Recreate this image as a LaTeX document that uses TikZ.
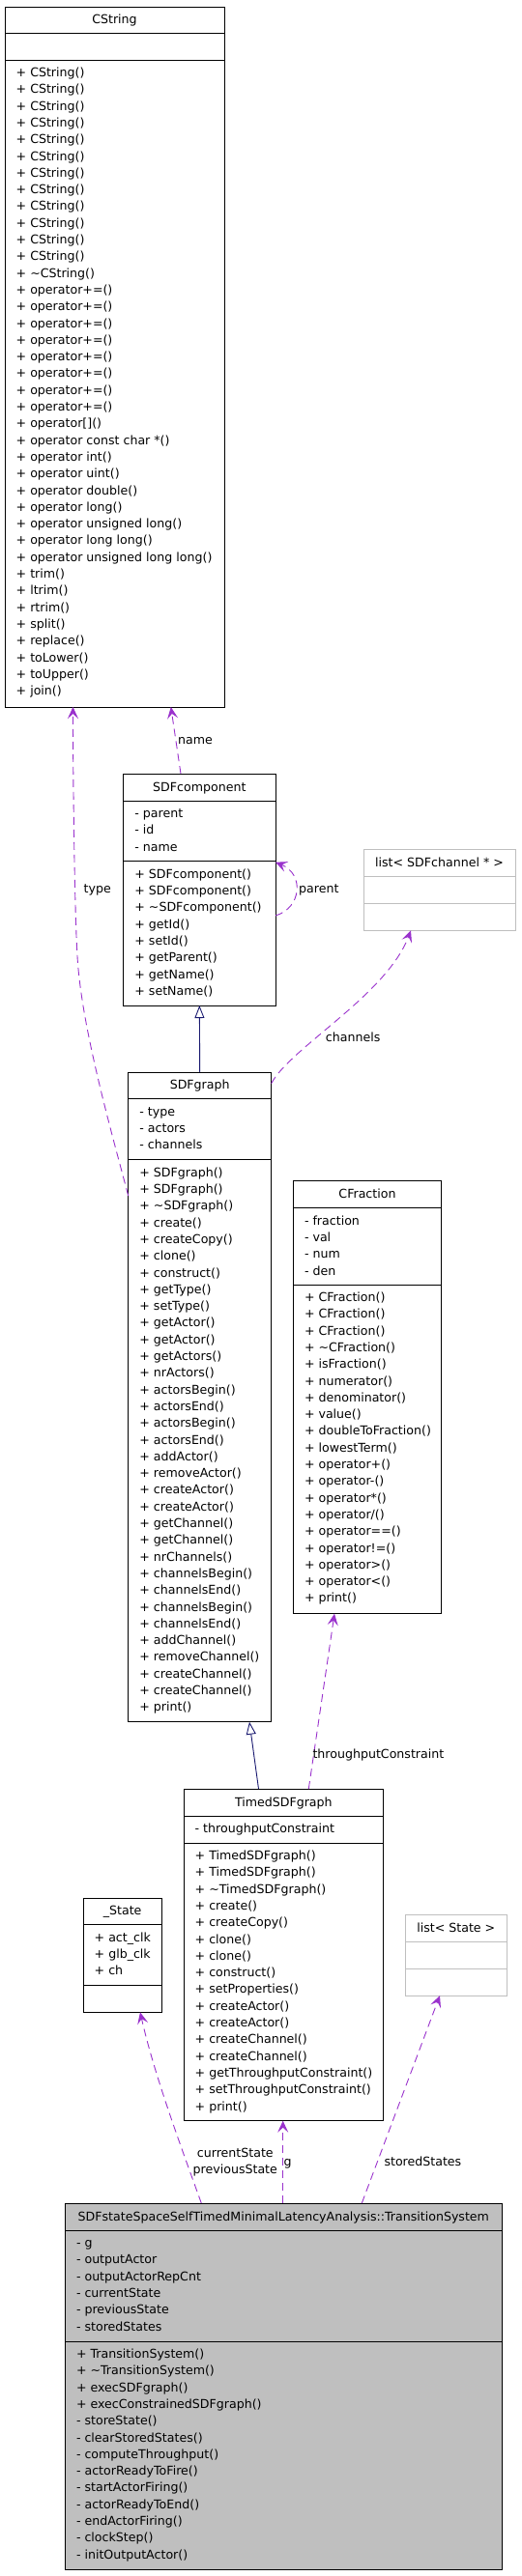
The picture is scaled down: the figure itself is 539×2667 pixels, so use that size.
\documentclass[tikz,border=0pt]{standalone}
\usepackage{fontspec}
\setmainfont{DejaVu Sans}
\usetikzlibrary{arrows.meta}
\definecolor{usecol}{HTML}{9A32CD}
\definecolor{inhcol}{HTML}{191970}
\definecolor{tplcol}{HTML}{BFBFBF}
\definecolor{selcol}{HTML}{BFBFBF}
\newcommand\rowfont{\fontsize{12.6}{17.3}\selectfont}
\tikzset{
 classbox/.style={draw=black, line width=0.9pt, fill=white, inner sep=0pt, outer sep=0pt},
 tplbox/.style={draw=tplcol, line width=1pt, fill=white, inner sep=0pt, outer sep=0pt},
 curbox/.style={draw=black, line width=0.9pt, fill=selcol, inner sep=0pt, outer sep=0pt},
 sepline/.style={line width=0.9pt, draw=black},
 tplsep/.style={line width=1pt, draw=tplcol},
 row/.style={anchor=base west, inner sep=0pt, font=\rowfont},
 ttl/.style={anchor=base, inner sep=0pt, font=\rowfont},
 lbl/.style={anchor=base west, inner sep=0pt, font=\rowfont},
 lblc/.style={anchor=base, inner sep=0pt, font=\rowfont},
 uses/.style={draw=usecol, line width=0.9pt, dash pattern=on 8pt off 5pt, -{Stealth[length=12pt,width=11pt,inset=5pt,fill=usecol]}},
 inherit/.style={draw=inhcol, line width=0.9pt, -{Triangle[open,length=13pt,width=10pt,fill=white]}},
}
% name, box style, sep style, x1, y1, x2, y2, sep1, sep2
\newcommand\umlbox[9]{%
 \node[#2, anchor=north west, minimum width={#6-#4}, minimum height={#7-#5}] (#1) at (#4,#5) {};
 \draw[#3] (#1.west |- 0,#8) -- (#1.east |- 0,#8);
 \draw[#3] (#1.west |- 0,#9) -- (#1.east |- 0,#9);
}
% prefix, x, first baseline, list
\newcommand\umlrows[4]{\foreach \t [count=\i] in {#4} {\node[row] (#1\i) at (#2,{#3+(\i-1)*17.3}) {\t};}}
\begin{document}
\begin{tikzpicture}[x=1pt,y=-1pt]
\fill[white] (0,0) rectangle (539,2667);
\useasboundingbox (0,0) rectangle (539,2667);

% CString
\umlbox{cstring}{classbox}{sepline}{5}{7}{232}{732}{34}{62}
\node[ttl] (cstring-t) at (118.5,24.5) {CString};
\umlrows{cstring-m}{16.5}{79.5}{+ CString(),+ CString(),+ CString(),+ CString(),+ CString(),+ CString(),+ CString(),+ CString(),+ CString(),+ CString(),+ CString(),+ CString(),+ \textasciitilde CString(),+ operator+=(),+ operator+=(),+ operator+=(),+ operator+=(),+ operator+=(),+ operator+=(),+ operator+=(),+ operator+=(),{+ operator[]()},+ operator const char *(),+ operator int(),+ operator uint(),+ operator double(),+ operator long(),+ operator unsigned long(),+ operator long long(),+ operator unsigned long long(),+ trim(),+ ltrim(),+ rtrim(),+ split(),+ replace(),+ toLower(),+ toUpper(),+ join()}

% SDFcomponent
\umlbox{sdfcomp}{classbox}{sepline}{127.7}{801}{285}{1041}{829}{891.7}
\node[ttl] (sdfcomp-t) at (206.35,819) {SDFcomponent};
\umlrows{sdfcomp-a}{139.2}{846.5}{- parent,- id,- name}
\umlrows{sdfcomp-m}{139.2}{909.2}{+ SDFcomponent(),+ SDFcomponent(),+ \textasciitilde SDFcomponent(),+ getId(),+ setId(),+ getParent(),+ getName(),+ setName()}

% list< SDFchannel * >
\umlbox{listch}{tplbox}{tplsep}{376}{879.3}{533}{963.3}{907.3}{935.3}
\node[ttl] (listch-t) at (454.5,897.3) {list< SDFchannel * >};

% SDFgraph
\umlbox{sdfgraph}{classbox}{sepline}{132.7}{1110}{280.7}{1782.7}{1137.7}{1200.7}
\node[ttl] (sdfgraph-t) at (206.7,1127.85) {SDFgraph};
\umlrows{sdfgraph-a}{144.2}{1155.2}{- type,- actors,- channels}
\umlrows{sdfgraph-m}{144.2}{1218.2}{+ SDFgraph(),+ SDFgraph(),+ \textasciitilde SDFgraph(),+ create(),+ createCopy(),+ clone(),+ construct(),+ getType(),+ setType(),+ getActor(),+ getActor(),+ getActors(),+ nrActors(),+ actorsBegin(),+ actorsEnd(),+ actorsBegin(),+ actorsEnd(),+ addActor(),+ removeActor(),+ createActor(),+ createActor(),+ getChannel(),+ getChannel(),+ nrChannels(),+ channelsBegin(),+ channelsEnd(),+ channelsBegin(),+ channelsEnd(),+ addChannel(),+ removeChannel(),+ createChannel(),+ createChannel(),+ print()}

% CFraction
\umlbox{cfrac}{classbox}{sepline}{303.3}{1222.7}{456.7}{1670.7}{1250.7}{1330}
\node[ttl] (cfrac-t) at (380,1240.7) {CFraction};
\umlrows{cfrac-a}{314.8}{1268.2}{- fraction,- val,- num,- den}
\umlrows{cfrac-m}{314.8}{1347.5}{+ CFraction(),+ CFraction(),+ CFraction(),+ \textasciitilde CFraction(),+ isFraction(),+ numerator(),+ denominator(),+ value(),+ doubleToFraction(),+ lowestTerm(),+ operator+(),+ operator-(),+ operator*(),+ operator/(),+ operator==(),+ operator!=(),+ operator>(),+ operator<(),+ print()}

% TimedSDFgraph
\umlbox{timed}{classbox}{sepline}{190}{1852}{396.7}{2195.7}{1880}{1908}
\node[ttl] (timed-t) at (293.35,1870) {TimedSDFgraph};
\umlrows{timed-a}{201.5}{1897.5}{- throughputConstraint}
\umlrows{timed-m}{201.5}{1925.5}{+ TimedSDFgraph(),+ TimedSDFgraph(),+ \textasciitilde TimedSDFgraph(),+ create(),+ createCopy(),+ clone(),+ clone(),+ construct(),+ setProperties(),+ createActor(),+ createActor(),+ createChannel(),+ createChannel(),+ getThroughputConstraint(),+ setThroughputConstraint(),+ print()}

% _State
\umlbox{state}{classbox}{sepline}{86}{1965}{167.3}{2083.3}{1992.7}{2055}
\node[ttl] (state-t) at (126.65,1982.85) {\_State};
\umlrows{state-a}{97.5}{2010.2}{+ act\_clk,+ glb\_clk,+ ch}

% list< State >
\umlbox{liststate}{tplbox}{tplsep}{419.3}{1982}{524.3}{2066}{2010}{2038}
\node[ttl] (liststate-t) at (471.8,2000) {list< State >};

% TransitionSystem
\umlbox{trans}{curbox}{sepline}{67.3}{2281}{519.3}{2660}{2309}{2424}
\node[ttl] (trans-t) at (293.3,2299) {SDFstateSpaceSelfTimedMinimalLatencyAnalysis::TransitionSystem};
\umlrows{trans-a}{78.8}{2326.5}{- g,- outputActor,- outputActorRepCnt,- currentState,- previousState,- storedStates}
\umlrows{trans-m}{78.8}{2441.5}{+ TransitionSystem(),+ \textasciitilde TransitionSystem(),+ execSDFgraph(),+ execConstrainedSDFgraph(),- storeState(),- clearStoredStates(),- computeThroughput(),- actorReadyToFire(),- startActorFiring(),- actorReadyToEnd(),- endActorFiring(),- clockStep(),- initOutputActor()}

% connectors
\draw[uses] ([yshift=-128pt]sdfgraph.north west) .. controls (112,1160) and (84,1060) .. (80,990) .. controls (77,940) and (75.5,800) .. ([xshift=70.5pt]cstring.south west);
\node[lbl] (l-type) at (86.5,924.7) {type};

\draw[uses] ([xshift=59.3pt]sdfcomp.north west) -- ([xshift=171.8pt]cstring.south west);
\node[lbl] (l-name) at (184,770) {name};

\draw[uses] ([yshift=-147pt]sdfcomp.north east) .. controls (312,940) and (315,905) .. ([yshift=-91.7pt]sdfcomp.north east);
\node[lbl] (l-parent) at (309,924.7) {parent};

\draw[uses] ([yshift=-11.7pt]sdfgraph.north east) .. controls (300,1085) and (400,1030) .. ([xshift=49pt]listch.south west);
\node[lbl] (l-channels) at (336.7,1078) {channels};

\draw[inherit] (sdfgraph.north) -- (sdfcomp.south);
\draw[inherit] ([xshift=77.5pt]timed.north west) -- ([xshift=125.3pt]sdfgraph.south west);

\draw[uses] ([xshift=129.3pt]timed.north west) -- ([xshift=42.7pt]cfrac.south west);
\node[lbl] (l-tc) at (323.3,1820.7) {throughputConstraint};

\draw[uses] ([xshift=141pt]trans.north west) .. controls (190,2230) and (160,2150) .. ([xshift=59pt]state.south west);
\node[lblc] (l-cs) at (243.3,2233) {currentState};
\node[lblc] (l-ps) at (243.3,2250.7) {previousState};

\draw[uses] ([xshift=225.4pt]trans.north west) -- ([xshift=102.7pt]timed.south west);
\node[lbl] (l-g) at (293.3,2242) {g};

\draw[uses] ([xshift=307pt]trans.north west) -- ([xshift=35.7pt]liststate.south west);
\node[lbl] (l-ss) at (397.3,2242) {storedStates};
\end{tikzpicture}
\end{document}
